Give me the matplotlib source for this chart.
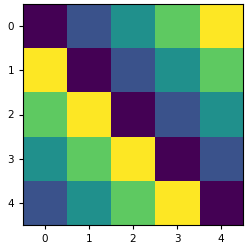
# Circulant matrix heatmap
import numpy as np
import matplotlib
matplotlib.use('Agg')
import matplotlib.pyplot as plt

row_0 = [0, 1, 2, 3, 4]
row_1 = [4, 0, 1, 2, 3]
row_2 = [3, 4, 0, 1, 2]
row_3 = [2, 3, 4, 0, 1]
row_4 = [1, 2, 3, 4, 0]
tick_labels = ['0', '1', '2', '3', '4']


def main():
    """
    Main routine
    """
    values = np.array([row_0, row_1, row_2, row_3, row_4])
    fig = plt.figure(figsize=(2.49, 2.44), dpi=100)
    ax = fig.add_axes([23 / 249, 19 / 244, 220 / 249, 221 / 244])
    ax.imshow(values, cmap='viridis', aspect='auto')
    ax.set_xticks(range(len(tick_labels)))
    ax.set_xticklabels(tick_labels)
    ax.set_yticks(range(len(tick_labels)))
    ax.set_yticklabels(tick_labels)
    ax.tick_params(labelsize=7.5, length=3)
    fig.savefig('out.png', dpi=100)


main()
